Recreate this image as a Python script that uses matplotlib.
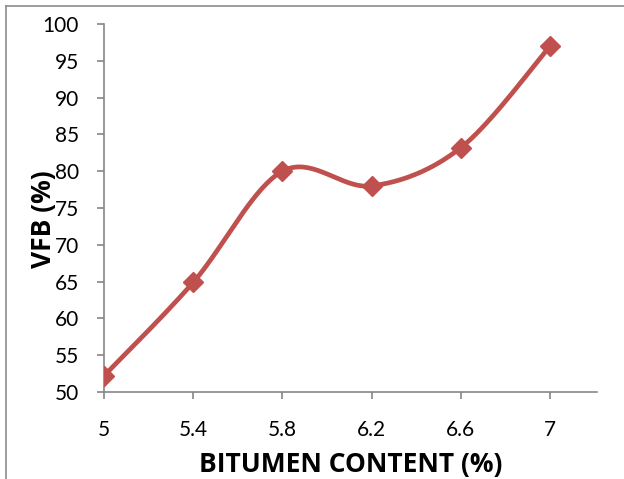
import matplotlib.pyplot as plt
from matplotlib.lines import Line2D
import numpy as np

bitumen = [5.0, 5.4, 5.8, 6.2, 6.6, 7.0]
vfb = [52.2, 64.9, 80.0, 78.0, 83.2, 97.0]
xticks = [5, 5.4, 5.8, 6.2, 6.6, 7]
xticklabels = ['5', '5.4', '5.8', '6.2', '6.6', '7']
yticks = list(range(50, 101, 5))


def smooth(x, y, n=40):
    # Catmull-Rom style cubic Bezier through every point
    x = np.asarray(x, float)
    y = np.asarray(y, float)
    px = np.concatenate([[x[0]], x, [x[-1]]])
    py = np.concatenate([[y[0]], y, [y[-1]]])
    xs, ys = [], []
    t = np.linspace(0, 1, n)
    for i in range(1, len(px) - 2):
        p0 = np.array([px[i], py[i]])
        p3 = np.array([px[i + 1], py[i + 1]])
        p1 = p0 + (np.array([px[i + 1], py[i + 1]]) - np.array([px[i - 1], py[i - 1]])) / 6
        p2 = p3 - (np.array([px[i + 2], py[i + 2]]) - np.array([px[i], py[i]])) / 6
        b = ((1 - t) ** 3)[:, None] * p0 + (3 * (1 - t) ** 2 * t)[:, None] * p1 \
            + (3 * (1 - t) * t ** 2)[:, None] * p2 + (t ** 3)[:, None] * p3
        xs.extend(b[:, 0])
        ys.extend(b[:, 1])
    return xs, ys


plt.rcParams['font.family'] = ['Lato', 'DejaVu Sans']

fig = plt.figure(figsize=(6.24, 4.79), dpi=100)
ax = fig.add_axes([0.1667, 0.1816, 0.790, 0.7684])

sx, sy = smooth(bitumen, vfb)
ax.plot(sx, sy, color='#C0504D', linewidth=3.4, solid_capstyle='round', zorder=2)
ax.plot(bitumen, vfb, linestyle='none', marker='D', markersize=10,
        color='#C0504D', zorder=3)

ax.set_xlim(5, 7.21)
ax.set_ylim(50, 100)
ax.set_xticks(xticks)
ax.set_xticklabels(xticklabels)
ax.set_yticks(yticks)

for side in ['top', 'right']:
    ax.spines[side].set_visible(False)
for side in ['left', 'bottom']:
    ax.spines[side].set_color('#868686')
    ax.spines[side].set_linewidth(1.2)
ax.tick_params(axis='both', direction='out', length=5, width=1.2, color='#868686',
               labelsize=15, labelcolor='black')
ax.tick_params(axis='x', pad=15)
ax.tick_params(axis='y', pad=13)

ax.set_xlabel('BITUMEN CONTENT (%)', fontsize=19, fontweight='bold',
              family=['Open Sans', 'DejaVu Sans'], labelpad=8)
ax.set_ylabel('VFB (%)', fontsize=19, fontweight='bold',
              family=['Open Sans', 'DejaVu Sans'])
ax.yaxis.set_label_coords(-0.095, 0.47)

# outer chart frame
fig.add_artist(Line2D([6 / 624, 6 / 624], [0, 1 - 6 / 479], color='#8c8c8c', linewidth=1.2))
fig.add_artist(Line2D([6 / 624, 1], [1 - 6 / 479, 1 - 6 / 479], color='#8c8c8c', linewidth=1.2))

fig.savefig('out.png', dpi=100)
